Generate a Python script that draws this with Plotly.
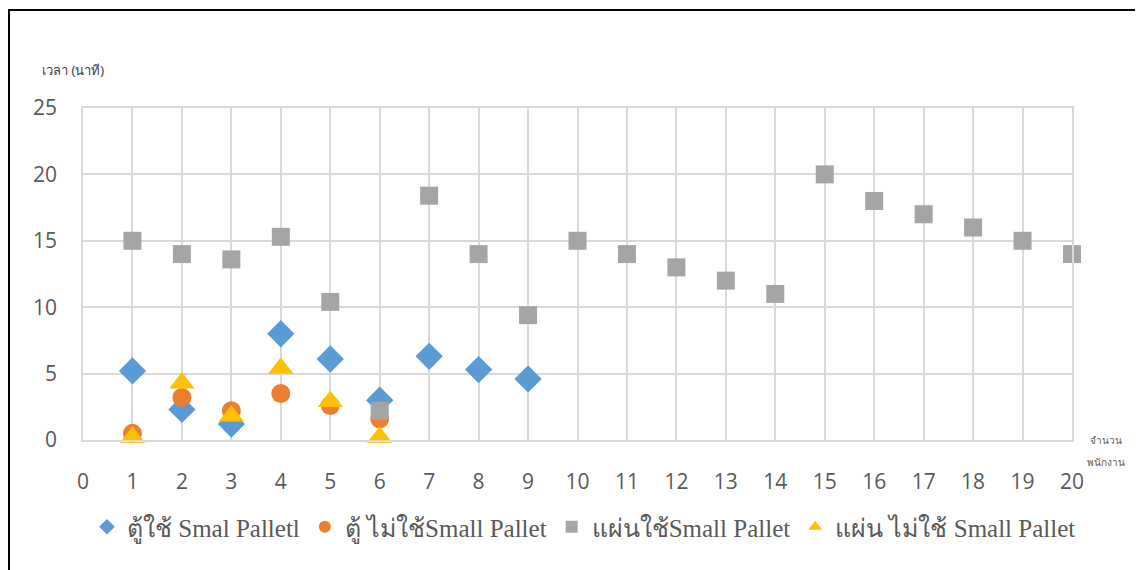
import plotly.graph_objects as go

# Data
x_blue = [1, 2, 3, 4, 5, 6, 7, 8, 9]
y_blue = [5.2, 2.3, 1.2, 8.0, 6.1, 3.0, 6.3, 5.3, 4.6]
x_orange = [1, 2, 3, 4, 5, 6]
y_orange = [0.5, 3.2, 2.2, 3.5, 2.6, 1.6]
x_gray = list(range(1, 21))
y_gray = [15, 14, 13.6, 15.3, 10.4, 2.2, 18.4, 14, 9.4, 15, 14, 13, 12, 11, 20, 18, 17, 16, 15, 14]
x_yellow = [1, 2, 3, 4, 5, 6]
y_yellow = [0.2, 4.3, 1.8, 5.4, 2.9, 0.2]

names = ["ตู้ใช้ Smal Palletl", "ตู้ ไม่ใช้Small Pallet", "แผ่นใช้Small Pallet", "แผ่น ไม่ใช้ Small Pallet"]

OX, OY = 8, 8  # page offset of the figure
W, H = 1143 - OX, 570 - OY
# plot area in reference pixel coords
PX0, PX1, PY0, PY1 = 83, 1072, 108, 440
L, R, T, B = PX0 - OX, W - (PX1 - OX), PY0 - OY, H - (PY1 - OY)
pw, ph = PX1 - PX0, PY1 - PY0

def px_to_paper_x(px):
    return (px - PX0) / pw

def px_to_paper_y(py):
    return (PY1 - py) / ph

fig = go.Figure()
fig.add_trace(go.Scatter(x=x_blue, y=y_blue, mode="markers", name=names[0], cliponaxis=False,
                         marker=dict(symbol="diamond", size=21, color="#5B9BD5")))
fig.add_trace(go.Scatter(x=x_orange, y=y_orange, mode="markers", name=names[1], cliponaxis=False,
                         marker=dict(symbol="circle", size=19, color="#ED7D31")))
fig.add_trace(go.Scatter(x=x_gray, y=y_gray, mode="markers", name=names[2], cliponaxis=False,
                         marker=dict(symbol="square", size=18, color="#A5A5A5")))
fig.add_trace(go.Scatter(x=x_yellow, y=y_yellow, mode="markers", name=names[3], cliponaxis=False,
                         marker=dict(symbol="triangle-up", size=22, color="#FFC000")))

grid = "#D9D9D9"
tickfont = dict(family="Open Sans, Calibri, sans-serif", size=21, color="#595959")

fig.update_xaxes(range=[0, 20], tick0=0, dtick=1, showgrid=True, gridcolor=grid, gridwidth=1.5,
                 zeroline=False, showline=True, mirror=True, linecolor=grid, linewidth=1.5,
                 tickfont=tickfont, ticks="", ticklabelstandoff=22, fixedrange=True)
fig.update_yaxes(range=[0, 25], tick0=0, dtick=5, showgrid=True, gridcolor=grid, gridwidth=1.5,
                 zeroline=False, showline=True, mirror=True, linecolor=grid, linewidth=1.5,
                 tickfont=tickfont, ticks="", ticklabelstandoff=20, fixedrange=True)

fig.add_shape(type="rect", xref="paper", yref="paper",
              x0=px_to_paper_x(9), x1=px_to_paper_x(1141),
              y0=px_to_paper_y(620), y1=px_to_paper_y(10),
              line=dict(color="black", width=2), fillcolor="rgba(0,0,0,0)", layer="below")

fig.add_annotation(text="เวลา (นาที)", xref="paper", yref="paper",
                   x=px_to_paper_x(40), y=px_to_paper_y(70), xanchor="left", yanchor="middle",
                   showarrow=False, font=dict(family="Noto Sans, sans-serif", size=13, color="#404040"))
xt_font = dict(family="Noto Sans, sans-serif", size=10, color="#595959")
fig.add_annotation(text="จำนวน", xref="paper", yref="paper",
                   x=px_to_paper_x(1106), y=px_to_paper_y(440), xanchor="center", yanchor="middle",
                   showarrow=False, font=xt_font)
fig.add_annotation(text="พนักงาน", xref="paper", yref="paper",
                   x=px_to_paper_x(1106), y=px_to_paper_y(462), xanchor="center", yanchor="middle",
                   showarrow=False, font=xt_font)

fig.update_layout(
    width=W, height=H,
    margin=dict(l=L, r=R, t=T, b=B),
    paper_bgcolor="white", plot_bgcolor="white",
    showlegend=True,
    legend=dict(orientation="h", x=px_to_paper_x(584), xanchor="center",
                y=px_to_paper_y(527), yanchor="middle",
                font=dict(family="Liberation Serif, DejaVu Serif, serif", size=25, color="#595959"),
                itemsizing="constant", bgcolor="rgba(0,0,0,0)"),
)

fig.write_html("out.html")
